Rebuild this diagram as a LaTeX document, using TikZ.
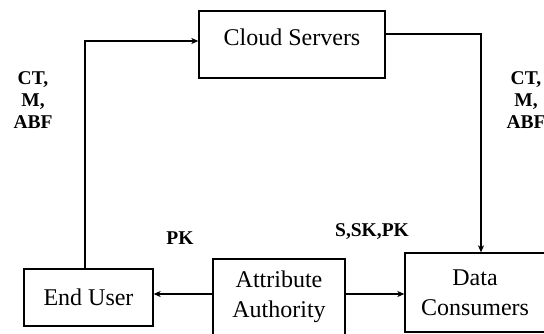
\documentclass[tikz,border=0pt]{standalone}
\usepackage{fontspec}
\setmainfont{Liberation Serif}
\usetikzlibrary{arrows.meta}
\begin{document}
\begin{tikzpicture}[x=1pt,y=-1pt,
  box/.style={draw, line width=1.3pt, inner sep=0pt},
  boxtext/.style={font=\fontsize{24}{30}\selectfont, align=center, inner sep=0pt},
  msg/.style={font=\bfseries\fontsize{19.5}{22}\selectfont, align=center, inner sep=0pt},
  link/.style={line width=1.2pt, -{Stealth[length=7pt,width=6pt,inset=2pt]}}]
\useasboundingbox (0,0) rectangle (544,333);

% boxes
\node[box, minimum width=186pt, minimum height=67pt] (cs) at (292,44.5) {};
\node[boxtext] (cstext) at (292,37) {Cloud Servers};
\node[box, boxtext, minimum width=129pt, minimum height=57pt] (eu) at (88.5,297.5) {End User};
\node[box, boxtext, minimum width=132pt, minimum height=76pt] (aa) at (279,297) {Attribute\\Authority};
\node[box, boxtext, minimum width=140pt, minimum height=79pt] (dc) at (475,292.5) {Data\\Consumers};

% message labels
\node[msg] (upl) at (33,100) {CT,\\M,\\ABF};
\node[msg] (dnl) at (526,100) {CT,\\M,\\ABF};
\node[msg] (pk) at (180,238) {PK};
\node[msg] (ssk) at (372,232) {S,SK,PK};

% connectors
\draw[link] ([xshift=-3.5pt]eu.north) |- ([yshift=3.5pt]cs.west);
\draw[link] ([yshift=10.5pt]cs.east) -| ([xshift=6pt]dc.north);
\draw[link] ([yshift=3pt]aa.west) -- ([yshift=3pt]aa.west -| eu.east);
\draw[link] ([yshift=3pt]aa.east) -- ([yshift=3pt]aa.east -| dc.west);
\end{tikzpicture}
\end{document}
